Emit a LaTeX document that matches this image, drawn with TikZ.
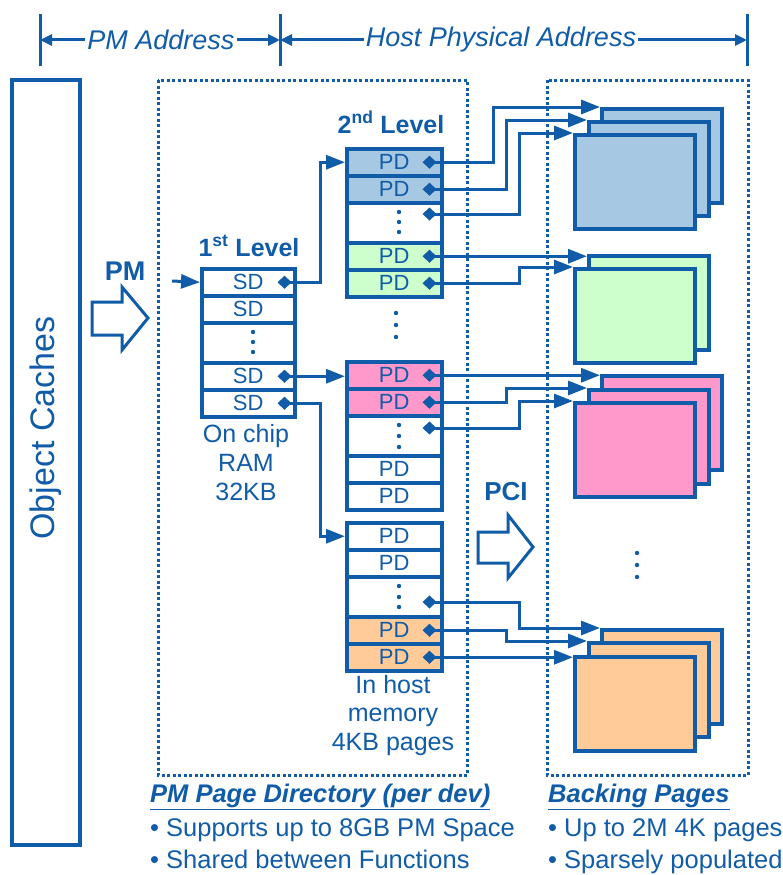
\documentclass[tikz,border=0pt]{standalone}
\usepackage{fontspec}
\setmainfont{Liberation Sans}
\usetikzlibrary{arrows.meta,calc}
\definecolor{ib}{RGB}{16,92,168}
\definecolor{fblue}{RGB}{166,200,226}
\definecolor{fgreen}{RGB}{204,255,204}
\definecolor{fpink}{RGB}{255,153,204}
\definecolor{forange}{RGB}{255,204,153}
\begin{document}
\begin{tikzpicture}[x=1pt,y=-1pt,line join=miter,
  every node/.style={text=ib},
  rowbox/.style={draw=ib,line width=3.5pt,minimum height=27pt,inner sep=0pt,anchor=north west,font=\fontsize{22}{22}\selectfont},
  l1row/.style={rowbox,minimum width=93pt},
  l2row/.style={rowbox,minimum width=95pt},
  dotsrow/.style={minimum height=40pt},
  page/.style={draw=ib,line width=3.5pt,minimum width=120pt,minimum height=94pt,inner sep=0pt,anchor=north west},
  conn/.style={draw=ib,line width=3pt,{Diamond[length=14pt,width=13pt]}-{Triangle[length=19pt,width=14pt]}},
  plainarrow/.style={draw=ib,line width=3pt,-{Triangle[length=19pt,width=14pt]}},
  harrow/.style={draw=ib,line width=3pt,-{Triangle[length=12pt,width=11pt]}},
  dotbox/.style={draw=ib,line width=3pt,dash pattern=on 3pt off 2.5pt},
  hollow/.style={draw=ib,line width=3pt,fill=white},
  lbl/.style={font=\fontsize{25}{25}\selectfont,inner sep=0pt,anchor=base},
  blbl/.style={font=\fontsize{25}{25}\selectfont\bfseries,inner sep=0pt,anchor=base},
  vdot/.style={fill=ib}
]
\useasboundingbox (0,0) rectangle (783,875);

% ---------- header ----------
\draw[ib,line width=3pt] (40,14) -- (40,66);
\draw[ib,line width=3pt] (280,14) -- (280,66);
\draw[ib,line width=3pt] (747,14) -- (747,66);
\coordinate (tkA) at (40,40);
\coordinate (tkB) at (280,40);
\coordinate (tkC) at (747,40);
\node[font=\fontsize{27}{27}\selectfont\itshape,inner sep=2pt] (hPM) at (161,40) {PM Address};
\node[font=\fontsize{27}{27}\selectfont\itshape,inner sep=2pt] (hHost) at (501,40) {Host Physical Address};
\draw[harrow] (hPM.west) -- (tkA);
\draw[harrow] (hPM.east) -- (tkB);
\draw[harrow] (hHost.west) -- (tkB);
\draw[harrow] (hHost.east) -- (tkC);

% ---------- object caches ----------
\node[draw=ib,line width=3.5pt,minimum width=68pt,minimum height=765pt,inner sep=0pt] (objc) at (46,462.5) {};
\node[rotate=90,font=\fontsize{34}{34}\selectfont,inner sep=0pt] (objtxt) at (46,428) {Object Caches};

% PM hollow arrow
\node[blbl,font=\fontsize{27}{27}\selectfont\bfseries] (pmlbl) at (125,280) {PM};
\draw[hollow] (92,302) -- (122,302) -- (122,287) -- (148,318) -- (122,350) -- (122,335) -- (92,335) -- cycle;

% ---------- dotted regions ----------
\draw[dotbox] (158,80) rectangle (467,775);
\draw[dotbox] (547,80) rectangle (748,775);

% ---------- 1st level ----------
\node[blbl] (lev1) at (249,256) {1\textsuperscript{st} Level};
\node[l1row] (l1a) at (200,267) {SD};
\node[l1row] (l1b) at (200,294) {SD};
\node[l1row,dotsrow] (l1c) at (200,321) {};
\node[l1row] (l1d) at (200,361) {SD};
\node[l1row] (l1e) at (200,388) {SD};
\foreach \yy in {332,342,352} \fill[vdot] (253,\yy) circle (2.2pt);
\node[lbl] (oc1) at (246,442) {On chip};
\node[lbl] (oc2) at (246,471) {RAM};
\node[lbl] (oc3) at (246,500) {32KB};
\coordinate (inPM) at (172,281);
\draw[plainarrow] (inPM) -- (l1a.west);

% ---------- 2nd level ----------
\node[blbl] (lev2) at (391,133) {2\textsuperscript{nd} Level};
\node[l2row,fill=fblue] (t1a) at (345,147) {PD};
\node[l2row,fill=fblue] (t1b) at (345,174) {PD};
\node[l2row,dotsrow] (t1c) at (345,201) {};
\node[l2row,fill=fgreen] (t1d) at (345,241) {PD};
\node[l2row,fill=fgreen] (t1e) at (345,268) {PD};
\foreach \yy in {212,222,232} \fill[vdot] (399,\yy) circle (2.2pt);

\foreach \yy in {313,325,337} \fill[vdot] (396,\yy) circle (2.2pt);

\node[l2row,fill=fpink] (t2a) at (345,360) {PD};
\node[l2row,fill=fpink] (t2b) at (345,387) {PD};
\node[l2row,dotsrow] (t2c) at (345,414) {};
\node[l2row] (t2d) at (345,454) {PD};
\node[l2row] (t2e) at (345,481) {PD};
\foreach \yy in {425,436,447} \fill[vdot] (399,\yy) circle (2.2pt);

\node[l2row] (t3a) at (345,521) {PD};
\node[l2row] (t3b) at (345,548) {PD};
\node[l2row,dotsrow] (t3c) at (345,575) {};
\node[l2row,fill=forange] (t3d) at (345,615) {PD};
\node[l2row,fill=forange] (t3e) at (345,642) {PD};
\foreach \yy in {586,597,607} \fill[vdot] (399,\yy) circle (2.2pt);

\node[lbl] (hm1) at (393,693) {In host};
\node[lbl] (hm2) at (393,721) {memory};
\node[lbl] (hm3) at (393,750) {4KB pages};

% ---------- 1st -> 2nd level ----------
\draw[conn] ($(l1a.east)+(-19,0)$) -| ($(t1a.west)+(-25,0)$) -- (t1a.west);
\draw[conn] ($(l1d.east)+(-19,0)$) -- (t2a.west |- l1d.east);
\draw[conn] ($(l1e.east)+(-19,0)$) -| ($(t3a.west)+(-25,0)$) -- (t3a.west);

% ---------- PCI ----------
\node[blbl,font=\fontsize{26}{26}\selectfont\bfseries] (pcilbl) at (506,500) {PCI};
\draw[hollow] (478,532) -- (508,532) -- (508,515) -- (533,547) -- (508,578) -- (508,563) -- (478,563) -- cycle;

% ---------- backing pages ----------
\node[page,fill=fblue] (pA1) at (600,107) {};
\node[page,fill=fblue] (pA2) at (587,120) {};
\node[page,fill=fblue] (pA3) at (573,133) {};
\node[page,fill=fgreen] (pB1) at (587,254) {};
\node[page,fill=fgreen] (pB2) at (573,267) {};
\node[page,fill=fpink] (pC1) at (600,374) {};
\node[page,fill=fpink] (pC2) at (587,388) {};
\node[page,fill=fpink] (pC3) at (573,401) {};
\node[page,fill=forange] (pD1) at (600,628) {};
\node[page,fill=forange] (pD2) at (587,641) {};
\node[page,fill=forange] (pD3) at (573,655) {};
\foreach \yy in {553,565,577} \fill[vdot] (637,\yy) circle (2.2pt);

% ---------- 2nd level -> pages ----------
\draw[conn] ($(t1a.east)+(-21,0)$) -| ($(pA1.north west)+(-107,0)$) -- (pA1.north west);
\draw[conn] ($(t1b.east)+(-21,0)$) -| ($(pA2.north west)+(-81,0)$) -- (pA2.north west);
\draw[conn] ($(t1c.north east)+(-21,13)$) -| ($(pA3.north west)+(-54,0)$) -- (pA3.north west);
\draw[conn] ($(t1d.east)+(-21,0)$) -- (pB1.north west |- t1d.east);
\draw[conn] ($(t1e.east)+(-21,0)$) -| ($(pB2.north west)+(-54,0)$) -- (pB2.north west);
\draw[conn] ($(t2a.east)+(-21,0)$) -- (pC1.north west |- t2a.east);
\draw[conn] ($(t2b.east)+(-21,0)$) -| ($(pC2.north west)+(-81,0)$) -- (pC2.north west);
\draw[conn] ($(t2c.north east)+(-21,14)$) -| ($(pC3.north west)+(-54,0)$) -- (pC3.north west);
\draw[conn] ($(t3c.north east)+(-21,27)$) -| ($(pD1.north west)+(-81,0)$) -- (pD1.north west);
\draw[conn] ($(t3d.east)+(-21,0)$) -| ($(pD2.north west)+(-81,0)$) -- (pD2.north west);
\draw[conn] ($(t3e.east)+(-21,0)$) -- (pD3.north west |- t3e.east);

% ---------- bottom texts ----------
\node[lbl,anchor=base west,font=\fontsize{25.5}{25.5}\selectfont\bfseries\itshape] (dirhd) at (150,802) {\underline{PM Page Directory (per dev)}};
\node[lbl,anchor=base west,font=\fontsize{25.5}{25.5}\selectfont] (dirb1) at (150,836) {• Supports up to 8GB PM Space};
\node[lbl,anchor=base west,font=\fontsize{25.5}{25.5}\selectfont] (dirb2) at (150,868) {• Shared between Functions};
\node[lbl,anchor=base west,font=\fontsize{25.5}{25.5}\selectfont\bfseries\itshape] (bphd) at (548,802) {\underline{Backing Pages}};
\node[lbl,anchor=base west,font=\fontsize{25.5}{25.5}\selectfont] (bpb1) at (548,836) {• Up to 2M 4K pages};
\node[lbl,anchor=base west,font=\fontsize{25.5}{25.5}\selectfont] (bpb2) at (548,868) {• Sparsely populated};
\end{tikzpicture}
\end{document}
